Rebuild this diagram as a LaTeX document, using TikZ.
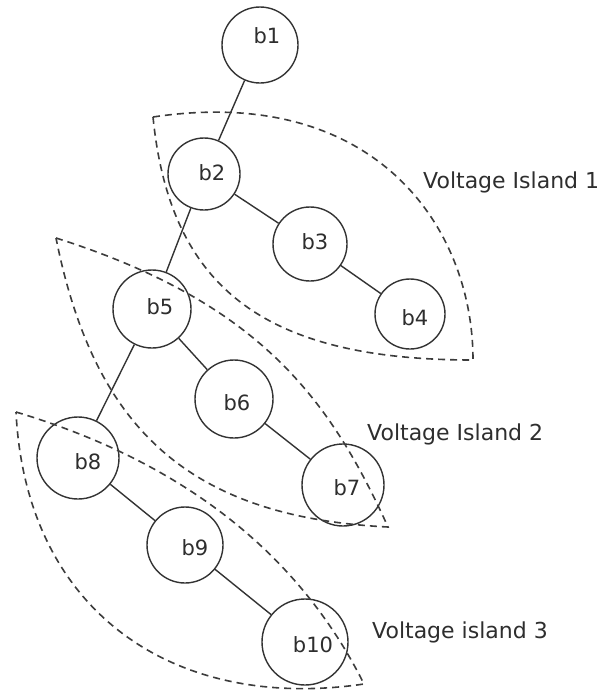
\documentclass[tikz,border=0pt]{standalone}
\usepackage{fontspec}
\setmainfont{DejaVu Sans}
\definecolor{linecol}{HTML}{333333}
\definecolor{dashcol}{HTML}{3C3C3C}
\definecolor{txtcol}{HTML}{2E2E2E}
\begin{document}
\begin{tikzpicture}[x=1pt,y=-1pt,
  bus/.style={circle,draw=linecol,line width=1.4pt,inner sep=0pt},
  lbl/.style={font=\fontsize{21}{24}\selectfont,text=txtcol,inner sep=0pt},
  isl/.style={draw=dashcol,line width=1.6pt,dash pattern=on 7pt off 5pt},
  vlbl/.style={font=\fontsize{22}{26}\selectfont,text=txtcol,anchor=base west,inner sep=0pt},
  conn/.style={draw=linecol,line width=1.4pt}]
\useasboundingbox[fill=white] (0,0) rectangle (602,691);

% buses
\node[bus,minimum size=76pt] (b1) at (260,45) {};
\node[bus,minimum size=72pt] (b2) at (204,174) {};
\node[bus,minimum size=74pt] (b3) at (310,244) {};
\node[bus,minimum size=70pt] (b4) at (410,314) {};
\node[bus,minimum size=78pt] (b5) at (152,309) {};
\node[bus,minimum size=78pt] (b6) at (234,399) {};
\node[bus,minimum size=82pt] (b7) at (343,485) {};
\node[bus,minimum size=82pt] (b8) at (78,458) {};
\node[bus,minimum size=76pt] (b9) at (185,545) {};
\node[bus,minimum size=86pt] (b10) at (305,642) {};

% labels inside
\node[lbl] (t1) at (267,36) {b1};
\node[lbl] (t2) at (212,173) {b2};
\node[lbl] (t3) at (315,242) {b3};
\node[lbl] (t4) at (415,318) {b4};
\node[lbl] (t5) at (160,307) {b5};
\node[lbl] (t6) at (237,403) {b6};
\node[lbl] (t7) at (347,488) {b7};
\node[lbl] (t8) at (88,462) {b8};
\node[lbl] (t9) at (195,548) {b9};
\node[lbl] (t10) at (313,645) {b10};

% connectors
\draw[conn] (b1) -- (b2);
\draw[conn] (b2) -- (b3);
\draw[conn] (b3) -- (b4);
\draw[conn] (b2) -- (b5);
\draw[conn] (b5) -- (b6);
\draw[conn] (b6) -- (b7);
\draw[conn] (b5) -- (b8);
\draw[conn] (b8) -- (b9);
\draw[conn] (b9) -- (b10);

% voltage islands
\draw[isl] (153,117) .. controls (373,84) and (473,225) .. (473,360)
  .. controls (263,360) and (170,287) .. cycle;
\draw[isl] (56,238) .. controls (258,302) and (329,397) .. (388,527)
  .. controls (188,517) and (94,428) .. cycle;
\draw[isl] (16,412) .. controls (196,466) and (304,564) .. (364,684)
  .. controls (174,712) and (26,612) .. cycle;

\node[vlbl] (v1) at (423,188) {Voltage Island 1};
\node[vlbl] (v2) at (367,440) {Voltage Island 2};
\node[vlbl] (v3) at (372,638) {Voltage island 3};
\end{tikzpicture}
\end{document}
